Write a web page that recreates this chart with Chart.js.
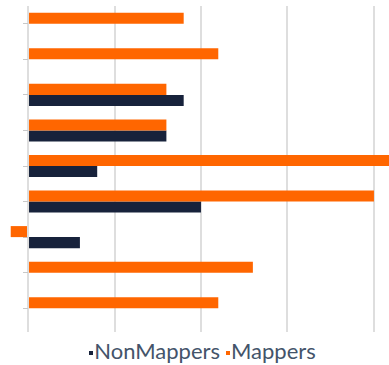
<!DOCTYPE html>
<html>
<head>
<meta charset="utf-8">
<script src="https://cdn.jsdelivr.net/npm/chart.js@4"></script>
<style>
  html, body { margin: 0; padding: 0; background: #fff; overflow: hidden; }
  #wrap { width: 389px; height: 365px; position: relative; }
  #legend {
    position: absolute; left: 0; top: 337px; width: 373px; padding-left: 16px;
    text-align: center; font-family: Lato, sans-serif; font-size: 22px;
    color: #44546a; line-height: 28px; white-space: nowrap;
  }
  #legend .sw { display: inline-block; width: 4px; height: 4px; vertical-align: middle; margin-right: 1px; }
  #legend .item { margin: 0 3px; }
</style>
</head>
<body>
<div id="wrap">
  <canvas id="bar-chart" width="389" height="332"></canvas>
  <div id="legend"></div>
</div>
<script>
const categories = ["Item 1", "Item 2", "Item 3", "Item 4", "Item 5", "Item 6", "Item 7", "Item 8", "Item 9"];
const mappers = [9, 11, 8, 8, 24, 20, -1, 13, 11];
const nonMappers = [0, 0, 9, 8, 4, 10, 3, 0, 0];
const gridTicks = [0, 5, 10, 15, 20];

const orange = "#ff6600";
const navy = "#17223b";

const chartCanvas = document.getElementById("bar-chart");
const legendBox = document.getElementById("legend");

// orange sits above the navy bar inside each category, so Mappers goes first
const myBarChart = new Chart(chartCanvas, {
    type: "bar",
    data: {
        labels: categories,
        datasets: [
            { label: "Mappers", data: mappers, backgroundColor: orange },
            { label: "NonMappers", data: nonMappers, backgroundColor: navy }
        ]
    },
    options: {
        indexAxis: "y",
        responsive: false,
        animation: false,
        layout: { padding: { top: 6 } },
        datasets: { bar: { categoryPercentage: 0.62, barPercentage: 1 } },
        plugins: { legend: { display: false }, tooltip: { enabled: false } },
        scales: {
            x: {
                type: "linear",
                min: -1.62,
                max: 20.87,
                afterBuildTicks: scale => { scale.ticks = gridTicks.map(v => ({ value: v })); },
                ticks: { display: false },
                grid: { color: "#dedede", lineWidth: 2, drawTicks: true, tickLength: 6 },
                border: { display: false }
            },
            y: {
                position: { x: 0 },
                ticks: { display: false },
                grid: { drawOnChartArea: false, drawTicks: true, tickLength: 5, offset: false, color: "#c8c8c8" },
                border: { display: false }
            }
        }
    }
});

// legend in the same order as the original: NonMappers then Mappers
[["NonMappers", navy], ["Mappers", orange]].forEach(([name, color]) => {
    const item = document.createElement("span");
    item.className = "item";
    item.innerHTML = '<span class="sw" style="background:' + color + '"></span>' + name;
    legendBox.appendChild(item);
});
</script>
</body>
</html>
